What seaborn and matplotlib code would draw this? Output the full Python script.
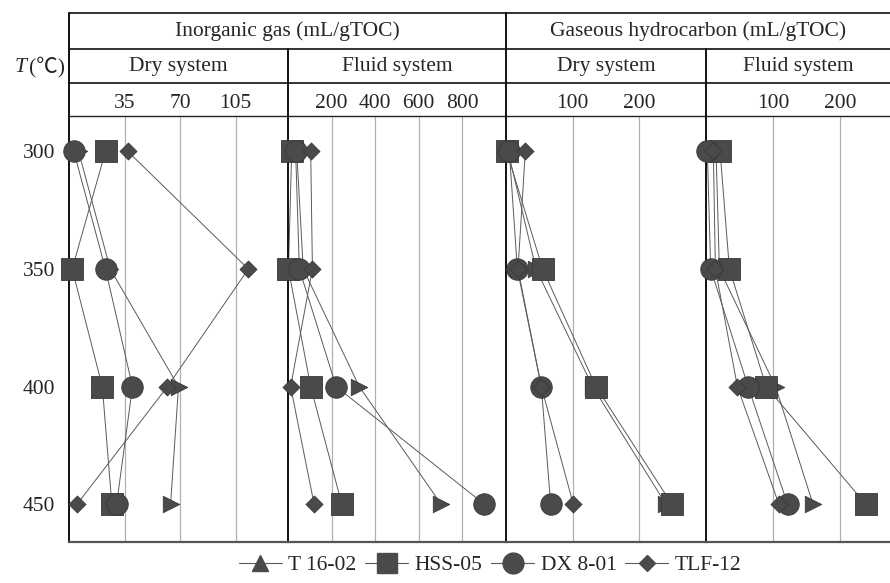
import pandas as pd
import matplotlib.pyplot as plt
import seaborn as sns
from matplotlib.lines import Line2D

# Temperatures (°C)
temps = [300, 350, 400, 450]
samples = ["T 16-02", "HSS-05", "DX 8-01", "TLF-12"]

# Inorganic gas, dry system (mL/gTOC)
inorg_dry = {
    "T 16-02": [6, 26, 69, 64],
    "HSS-05": [23, 2, 21, 27],
    "DX 8-01": [3, 23, 40, 30],
    "TLF-12": [37, 113, 62, 5],
}
# Inorganic gas, fluid system
inorg_fluid = {
    "T 16-02": [40, 70, 327, 703],
    "HSS-05": [17, 2, 104, 247],
    "DX 8-01": [35, 52, 221, 901],
    "TLF-12": [104, 112, 12, 120],
}
# Gaseous hydrocarbon, dry system
hc_dry = {
    "T 16-02": [3, 45, 130, 240],
    "HSS-05": [1, 55, 135, 249],
    "DX 8-01": [5, 17, 53, 67],
    "TLF-12": [29, 18, 53, 101],
}
# Gaseous hydrocarbon, fluid system
hc_fluid = {
    "T 16-02": [15, 20, 104, 160],
    "HSS-05": [21, 35, 90, 239],
    "DX 8-01": [2, 7, 63, 122],
    "TLF-12": [11, 14, 47, 109],
}

panels = [
    (inorg_dry, (0, 138), [35, 70, 105], (69, 288)),
    (inorg_fluid, (0, 1000), [200, 400, 600, 800], (288, 506)),
    (hc_dry, (0, 300), [100, 200], (506, 706)),
    (hc_fluid, (0, 275), [100, 200], (706, 890)),
]

markers = {"T 16-02": ">", "HSS-05": "s", "DX 8-01": "o", "TLF-12": "D"}
msizes = {"T 16-02": 140, "HSS-05": 230, "DX 8-01": 240, "TLF-12": 75}

sns.set_style("white")
plt.rcParams["font.family"] = ["Liberation Serif", "DejaVu Serif"]
fs = 15.5
fill = "#4a4a4a"
linec = "#5a5a5a"

W, H = 890, 583
fig = plt.figure(figsize=(W / 100, H / 100), dpi=100)


def fx(px):
    return px / W


def fy(py):
    return 1 - py / H


top_px, bot_px = 116, 542

for i, (data, xlim, ticks, (x0, x1)) in enumerate(panels):
    ax = fig.add_axes([fx(x0), fy(bot_px), (x1 - x0) / W, (bot_px - top_px) / H])
    # lines first
    for s in samples:
        df = pd.DataFrame({"val": data[s], "T": temps})
        sns.lineplot(data=df, x="val", y="T", sort=False, estimator=None,
                     color=linec, linewidth=0.7, ax=ax, legend=False)
    # then markers
    for s in samples:
        df = pd.DataFrame({"val": data[s], "T": temps})
        sns.scatterplot(data=df, x="val", y="T", marker=markers[s], s=msizes[s],
                        color=fill, edgecolor="#383838", linewidth=0.6,
                        ax=ax, legend=False, zorder=3, clip_on=False)
    ax.set_xlim(*xlim)
    ax.set_ylim(466, 285)
    ax.set_xticks(ticks)
    ax.xaxis.tick_top()
    ax.tick_params(axis="x", length=0, pad=2.5, labelsize=fs)
    ax.grid(axis="x", color="#b0b0b0", linewidth=0.9)
    ax.set_xlabel("")
    ax.set_ylabel("")
    ax.set_yticks([300, 350, 400, 450])
    if i == 0:
        ax.tick_params(axis="y", length=0, pad=10, labelsize=fs)
    else:
        ax.set_yticklabels([])
        ax.tick_params(axis="y", length=0)
    for sp in ["top", "right"]:
        ax.spines[sp].set_visible(False)
    ax.spines["left"].set_color("#111111")
    ax.spines["left"].set_linewidth(1.4)
    ax.spines["bottom"].set_color("#555555")
    ax.spines["bottom"].set_linewidth(1.6)

# header table lines
def hline(y, xa, xb, lw=1.3):
    fig.add_artist(Line2D([fx(xa), fx(xb)], [fy(y), fy(y)], color="#222222", lw=lw))


def vline(x, ya, yb, lw=1.4):
    fig.add_artist(Line2D([fx(x), fx(x)], [fy(ya), fy(yb)], color="#111111", lw=lw))


hline(13, 69, 890)
hline(49, 69, 890)
hline(83, 69, 890)
hline(116, 69, 890, lw=1.0)
vline(69, 13, 116)
vline(506, 13, 116)
vline(288, 49, 116)
vline(706, 49, 116)

fig.text(fx(287), fy(31), "Inorganic gas (mL/gTOC)", ha="center", va="center", fontsize=fs)
fig.text(fx(698), fy(31), "Gaseous hydrocarbon (mL/gTOC)", ha="center", va="center", fontsize=fs)
fig.text(fx(178), fy(67), "Dry system", ha="center", va="center", fontsize=fs)
fig.text(fx(397), fy(67), "Fluid system", ha="center", va="center", fontsize=fs)
fig.text(fx(606), fy(67), "Dry system", ha="center", va="center", fontsize=fs)
fig.text(fx(798), fy(67), "Fluid system", ha="center", va="center", fontsize=fs)
fig.text(fx(15), fy(67), "T", ha="left", va="center", fontsize=fs, fontstyle="italic")
fig.text(fx(29), fy(67), "(℃)", ha="left", va="center", fontsize=fs,
         family=["Liberation Serif", "Noto Sans CJK SC", "DejaVu Sans"])

# legend
handles = [
    Line2D([], [], color=linec, lw=0.8, marker="^", markersize=12, markerfacecolor=fill, markeredgecolor=fill),
    Line2D([], [], color=linec, lw=0.8, marker="s", markersize=14, markerfacecolor=fill, markeredgecolor=fill),
    Line2D([], [], color=linec, lw=0.8, marker="o", markersize=15, markerfacecolor=fill, markeredgecolor=fill),
    Line2D([], [], color=linec, lw=0.8, marker="D", markersize=8, markerfacecolor=fill, markeredgecolor=fill),
]
fig.legend(handles, samples, loc="center", bbox_to_anchor=(fx(490), fy(565)), ncol=4,
           frameon=False, fontsize=fs, handlelength=2.0, columnspacing=0.4, handletextpad=0.3)

fig.savefig("out.png", dpi=100)
